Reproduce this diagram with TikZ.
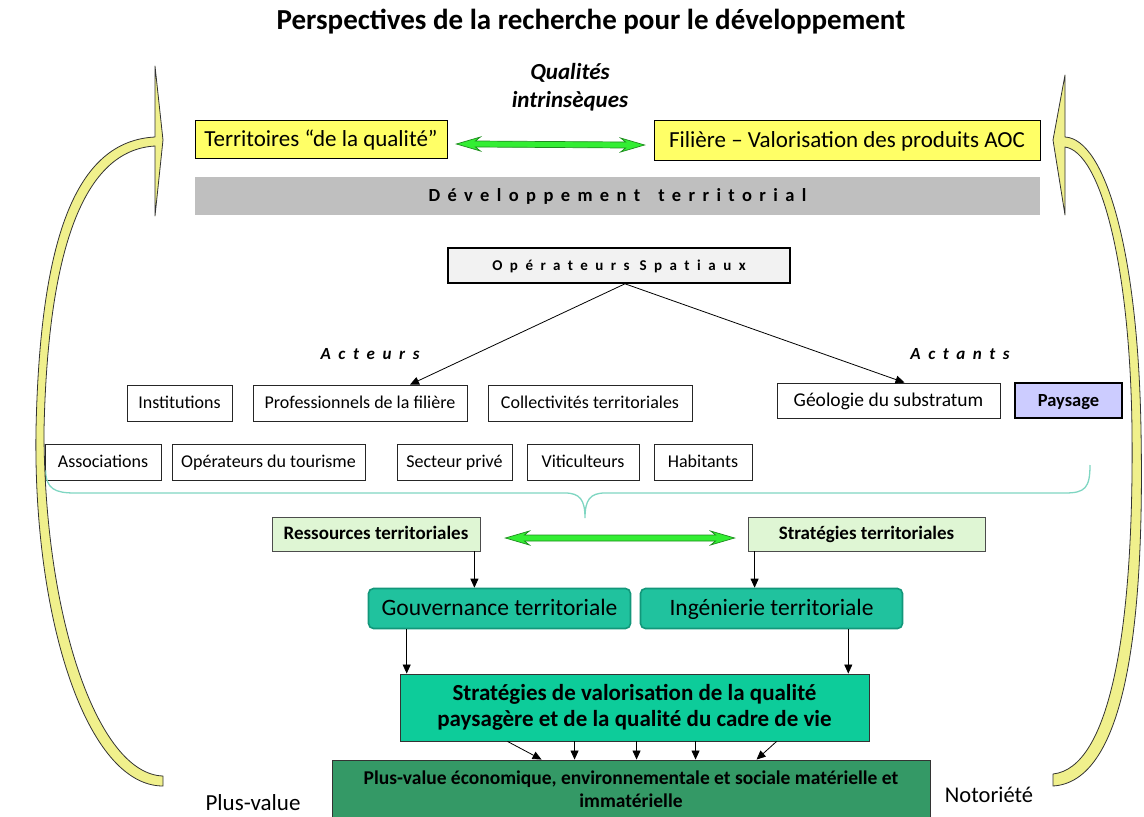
\documentclass[tikz,border=0pt]{standalone}
\usepackage{fontspec}
\setmainfont{Carlito}
\usetikzlibrary{arrows.meta,calc}
\definecolor{yel}{HTML}{FFFF66}
\definecolor{grayb}{HTML}{BFBFBF}
\definecolor{arrg}{HTML}{33EE33}
\definecolor{arrgd}{HTML}{1E8C1E}
\definecolor{opfill}{HTML}{F2F2F2}
\definecolor{lav}{HTML}{CCCCFF}
\definecolor{palegreen}{HTML}{DFF6D4}
\definecolor{tealA}{HTML}{20C29E}
\definecolor{tealAd}{HTML}{12977A}
\definecolor{tealB}{HTML}{0DCC9A}
\definecolor{darkg}{HTML}{349966}
\definecolor{bracecol}{HTML}{7FD6C2}
\definecolor{ayel}{HTML}{F0F08C}
\newcommand{\fs}[1]{\fontsize{#1}{#1}\selectfont}
\newcommand{\blockdbl}[2]{%
 \draw[garrow] let \p1=(#1), \p2=(#2) in
 (\x1,\y1) -- (\x1+24pt,\y1+7pt) -- (\x1+19pt,\y1+3pt) -- (\x2-19pt,\y2+3pt) -- (\x2-24pt,\y2+7pt) -- (\x2,\y2)
 -- (\x2-24pt,\y2-7pt) -- (\x2-19pt,\y2-3pt) -- (\x1+19pt,\y1-3pt) -- (\x1+24pt,\y1-7pt) -- cycle;}
\tikzset{
 vc/.style={text height=0.78*#1, text depth=0.16*#1},
 yelbox/.style={draw=black, line width=0.8pt, fill=yel, inner sep=0pt, font=\fs{23}, vc=23pt},
 wbox/.style={draw=black!85, line width=0.8pt, fill=white, inner sep=0pt, minimum height=36pt, font=\fs{18}, vc=18pt},
 pgbox/.style={draw=black!70, line width=0.8pt, fill=palegreen, inner sep=0pt, minimum height=34pt, font=\bfseries\fs{19}, vc=19pt},
 tbox/.style={draw=tealAd, line width=1.6pt, fill=tealA, rounded corners=5pt, inner sep=0pt, minimum width=262pt, minimum height=40pt, font=\fs{23.5}, vc=23.5pt},
 arr/.style={-{Triangle[length=9pt,width=8pt]}, line width=0.8pt, draw=black},
 garrow/.style={fill=arrg, draw=arrgd, line width=0.7pt},
 yarrow/.style={fill=ayel, draw=black!80, line width=0.8pt, line join=round},
}
\begin{document}
\begin{tikzpicture}[x=1pt,y=-1pt]
\useasboundingbox (0,0) rectangle (1144,817);
% title
\node[font=\bfseries\fs{29}] (title) at (591,22) {Perspectives de la recherche pour le développement};
\node[font=\bfseries\itshape\fs{23}, align=center] (qual) at (570,87) {Qualités\\[5pt]intrinsèques};
% top boxes
\node[yelbox, minimum width=252pt, minimum height=38pt] (terr) at (321,139) {Territoires “de la qualité”};
\node[yelbox, minimum width=386pt, minimum height=40pt] (fil) at (847,140) {Filière – Valorisation des produits AOC};
\node[fill=grayb, minimum width=845pt, minimum height=38pt, inner sep=0pt, vc=18.5pt, font=\bfseries\fs{18.5}\addfontfeatures{LetterSpace=40,Ligatures=NoCommon}] (dev) at (617.5,196) {Développement\hspace{18pt}territorial};
\blockdbl{$(terr.east)+(9,5)$}{$(fil.west)+(-9,5)$}
% operateurs
\node[draw=black, line width=1.6pt, fill=opfill, minimum width=342pt, minimum height=35pt, inner sep=0pt, vc=15pt, font=\bfseries\fs{15}\addfontfeatures{LetterSpace=50,Ligatures=NoCommon}] (ops) at (619,265.5) {Opérateurs\hspace{10pt}Spatiaux};
\node[font=\bfseries\itshape\fs{17}\addfontfeatures{LetterSpace=45}] (act) at (370,354) {Acteurs};
\node[font=\bfseries\itshape\fs{17}\addfontfeatures{LetterSpace=45}] (actt) at (960,354) {Actants};
% row 1
\node[wbox, minimum width=105pt] (inst) at (179.5,403) {Institutions};
\node[wbox, minimum width=214pt] (prof) at (360,403) {Professionnels de la filière};
\node[wbox, minimum width=204pt] (coll) at (590,403) {Collectivités territoriales};
\node[wbox, minimum width=223pt, minimum height=35pt, font=\fs{19.5}, vc=19.5pt] (geo) at (888.5,400.5) {Géologie du substratum};
\node[wbox, fill=lav, line width=1.6pt, draw=black, minimum width=107pt, minimum height=35pt, font=\bfseries\fs{18.5}, vc=18.5pt] (pays) at (1068.5,400.5) {Paysage};
% row 2
\node[wbox, minimum width=116pt] (asso) at (103,462) {Associations};
\node[wbox, minimum width=193pt] (optour) at (268.5,462) {Opérateurs du tourisme};
\node[wbox, minimum width=115pt] (sect) at (454.5,462) {Secteur privé};
\node[wbox, minimum width=112pt] (viti) at (583,462) {Viticulteurs};
\node[wbox, minimum width=98pt] (hab) at (703,462) {Habitants};
\draw[arr] ($(ops.south)+(6,0)$) -- ($(prof.north)+(50,0)$);
\draw[arr] ($(ops.south)+(6,0)$) -- ($(geo.north)+(16,0)$);
% brace
\coordinate (bl) at ($(asso.south west)+(1,-10)$);
\coordinate (br) at (1090,465);
\draw[bracecol, line width=1.3pt] (bl) .. controls (46,489) and (55,493) .. (75,493) -- (565,493)
  .. controls (580,493) and (585,500) .. (585,518) .. controls (585,500) and (590,493) .. (605,493)
  -- (1065,493) .. controls (1085,493) and (1090,488) .. (br);
% ressources / strategies
\node[pgbox, minimum width=208pt] (res) at (376,534) {Ressources territoriales};
\node[pgbox, minimum width=237pt] (strat) at (866.5,534) {Stratégies territoriales};
\blockdbl{$(res.east)+(25,4)$}{$(strat.west)+(-13,4)$}
\node[tbox] (gouv) at (499.5,608.5) {Gouvernance territoriale};
\node[tbox] (ing) at (771.5,608.5) {Ingénierie territoriale};
\coordinate (r1) at ($(res.south east)+(-6,0)$);
\coordinate (s1) at ($(strat.south west)+(7,0)$);
\draw[arr] (r1) -- (r1 |- gouv.north);
\draw[arr] (s1) -- (s1 |- ing.north);
% valorisation
\node[draw=black!80, line width=0.9pt, fill=tealB, minimum width=469pt, minimum height=67pt, inner sep=0pt, align=center, font=\bfseries\fs{23}] (val) at (634.5,707.5) {Stratégies de valorisation de la qualité\\[3pt]paysagère et de la qualité du cadre de vie};
\coordinate (g1) at ($(gouv.south west)+(39,0)$);
\coordinate (i1) at ($(ing.south east)+(-55,0)$);
\draw[arr] (g1) -- (g1 |- val.north);
\draw[arr] (i1) -- (i1 |- val.north);
% plus-value
\node[draw=black!80, line width=0.9pt, fill=darkg, minimum width=598pt, minimum height=60pt, inner sep=0pt] (pv) at (631,790) {};
\node[align=center, font=\bfseries\fs{19.5}] (pvt) at (631,789) {Plus-value économique, environnementale et sociale matérielle et\\[3pt]immatérielle};
\coordinate (v1) at ($(val.south west)+(108,0)$);
\coordinate (v2) at ($(val.south west)+(175,0)$);
\coordinate (v3) at ($(val.south west)+(237,0)$);
\coordinate (v4) at ($(val.south west)+(296,0)$);
\coordinate (v5) at ($(val.south west)+(377,0)$);
\draw[arr] (v1) -- ($(pv.north west)+(210,0)$);
\draw[arr] (v2) -- (v2 |- pv.north);
\draw[arr] (v3) -- (v3 |- pv.north);
\draw[arr] (v4) -- (v4 |- pv.north);
\draw[arr] (v5) -- ($(pv.north west)+(425,0)$);
\node[font=\fs{23}] (plv) at (253,803) {Plus-value};
\node[font=\fs{22.5}] (noto) at (989,795) {Notoriété};
% curved yellow arrows
\draw[yarrow] (155,146) -- (155,216) -- (163,140) -- (155,66) -- (155,137)
  .. controls (75,141) and (40,240) .. (36,430)
  .. controls (33,620) and (87,786) .. (163,786) -- (163,776)
  .. controls (97,774) and (44,615) .. (44,430)
  .. controls (48,248) and (84,150) .. (155,146) -- cycle;
\draw[yarrow] (1065,147) -- (1065,215) -- (1053,140) -- (1065,75) -- (1065,137)
  .. controls (1105,139) and (1138,250) .. (1141,430)
  .. controls (1145,640) and (1122,782) .. (1053,786) -- (1053,774)
  .. controls (1110,768) and (1134,630) .. (1132,430)
  .. controls (1130,262) and (1100,152) .. (1065,147) -- cycle;
\end{tikzpicture}
\end{document}
